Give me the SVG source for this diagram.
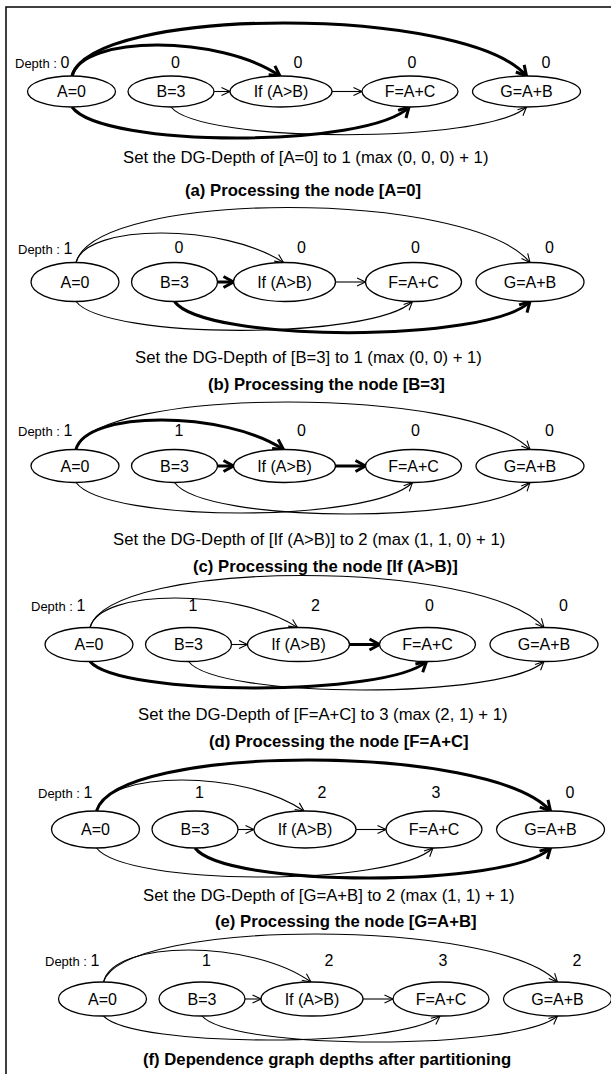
<svg xmlns="http://www.w3.org/2000/svg" width="611" height="1074" viewBox="0 0 611 1074">
<style>
.n ellipse{fill:#fff;stroke:#000;stroke-width:1.3}
.n text{font-family:"Liberation Sans",Arial,sans-serif;font-size:16px;text-anchor:middle;fill:#000}
.e{fill:none;stroke:#000;stroke-width:1.1;marker-end:url(#arr)}
.e.t{stroke-width:3;marker-end:url(#arrT)}
.lbl{font-family:"Liberation Sans",Arial,sans-serif;fill:#000}
.cap{font-size:16.7px}
.b{font-weight:bold}
.dl{font-size:13px}
.num{font-size:16px;text-anchor:middle}
</style>
<defs>
<marker id="arr" viewBox="0 0 10 10" refX="9.5" refY="5" markerWidth="10" markerHeight="10" markerUnits="userSpaceOnUse" orient="auto" overflow="visible"><path d="M1,1 L9.5,5 L1,9" fill="none" stroke="#000" stroke-width="1.1"/></marker>
<marker id="arrT" viewBox="0 0 14 14" refX="12" refY="7" markerWidth="14" markerHeight="14" markerUnits="userSpaceOnUse" orient="auto" overflow="visible"><path d="M2,1.5 L12,7 L2,12.5" fill="none" stroke="#000" stroke-width="3"/></marker>
</defs>
<path id="frame" d="M6,1074 V7 H611" fill="none" stroke="#000" stroke-width="1.5"/>

<g id="connectors">
<!-- a -->
<path class="e t" d="M72,76 C82,34.7 220,34.7 280,76"/>
<path class="e t" d="M72,76 C92,5.3 466,5.3 526.5,76"/>
<path class="e t" d="M72,107 C102,148.3 369,148.3 409,107"/>
<path class="e" d="M171,107 C201,144 486,144 526.5,107"/>
<path class="e" d="M214,91.5 L230,91.5"/>
<path class="e" d="M332,91.5 L362,91.5"/>
<!-- b -->
<path class="e" d="M76,262.5 C86,223.2 224,223.2 283.5,262.5"/>
<path class="e" d="M76,262.5 C96,189.2 470,189.2 530,262.5"/>
<path class="e" d="M76,301.5 C106,340 372,340 412.5,301.5"/>
<path class="e t" d="M174.5,301.5 C204.5,343 490,343 530,301.5"/>
<path class="e t" d="M217.5,282 L233.5,282"/>
<path class="e" d="M335.5,282 L365.5,282"/>
<!-- c -->
<path class="e t" d="M76,449.5 C86,410.2 224,410.2 283.5,449.5"/>
<path class="e" d="M76,449.5 C96,386.2 470,386.2 530,449.5"/>
<path class="e" d="M76,482.5 C106,523.2 372,523.2 412.5,482.5"/>
<path class="e" d="M174.5,482.5 C204.5,524.5 490,524.5 530,482.5"/>
<path class="e t" d="M217.5,466 L233.5,466"/>
<path class="e t" d="M335.5,466 L365.5,466"/>
<!-- d -->
<path class="e" d="M90,627.5 C100,588.2 238,588.2 297.5,627.5"/>
<path class="e" d="M90,627.5 C110,558.2 484,558.2 544,627.5"/>
<path class="e t" d="M90,661.5 C120,696.8 387,696.8 426.5,661.5"/>
<path class="e" d="M188.5,661.5 C218.5,699.5 504,699.5 544,661.5"/>
<path class="e" d="M231.5,644.5 L247.5,644.5"/>
<path class="e t" d="M349.5,644.5 L379.5,644.5"/>
<!-- e -->
<path class="e" d="M96.5,811 C106.5,769.7 244.5,769.7 304,811"/>
<path class="e t" d="M96.5,811 C116.5,743 490.5,743 550.5,811"/>
<path class="e" d="M96.5,848 C126.5,886.7 393,886.7 433,848"/>
<path class="e t" d="M195,848 C225,888 510.5,888 550.5,848"/>
<path class="e" d="M238,829.5 L254,829.5"/>
<path class="e" d="M356,829.5 L386,829.5"/>
<!-- f -->
<path class="e" d="M103.5,982 C113.5,939.3 251.5,939.3 311,982"/>
<path class="e" d="M103.5,982 C123.5,918 497.5,918 557.5,982"/>
<path class="e" d="M103.5,1016 C133.5,1048 400,1048 440,1016"/>
<path class="e" d="M202,1016 C232,1050.7 517.5,1050.7 557.5,1016"/>
<path class="e" d="M245,999 L261,999"/>
<path class="e" d="M363,999 L393,999"/>
</g>

<!-- panel a nodes -->
<g id="a-A" class="n"><ellipse cx="71.5" cy="91.5" rx="44" ry="15.5"/><text x="71.5" y="97">A=0</text></g>
<g id="a-B" class="n"><ellipse cx="171" cy="91.5" rx="43" ry="15.5"/><text x="171" y="97">B=3</text></g>
<g id="a-If" class="n"><ellipse cx="281" cy="91.5" rx="51" ry="15.5"/><text x="281" y="97">If (A&gt;B)</text></g>
<g id="a-F" class="n"><ellipse cx="410" cy="91.5" rx="48" ry="15.5"/><text x="410" y="97">F=A+C</text></g>
<g id="a-G" class="n"><ellipse cx="526.5" cy="91.5" rx="54" ry="15.5"/><text x="526.5" y="97">G=A+B</text></g>
<g id="a-labels" class="lbl">
<text class="dl" x="15" y="68">Depth : <tspan font-size="16">0</tspan></text>
<text class="num" x="175.5" y="68">0</text><text class="num" x="298" y="68">0</text><text class="num" x="412" y="68">0</text><text class="num" x="546" y="68">0</text>
<text class="cap" x="123" y="163">Set the DG-Depth of [A=0] to 1 (max (0, 0, 0) + 1)</text>
<text class="cap b" x="185" y="196">(a) Processing the node [A=0]</text>
</g>

<!-- panel b nodes -->
<g id="b-A" class="n"><ellipse cx="75" cy="282" rx="44" ry="19.5"/><text x="75" y="287.5">A=0</text></g>
<g id="b-B" class="n"><ellipse cx="174.5" cy="282" rx="43" ry="19.5"/><text x="174.5" y="287.5">B=3</text></g>
<g id="b-If" class="n"><ellipse cx="284.5" cy="282" rx="51" ry="19.5"/><text x="284.5" y="287.5">If (A&gt;B)</text></g>
<g id="b-F" class="n"><ellipse cx="413.5" cy="282" rx="48" ry="19.5"/><text x="413.5" y="287.5">F=A+C</text></g>
<g id="b-G" class="n"><ellipse cx="530" cy="282" rx="54" ry="19.5"/><text x="530" y="287.5">G=A+B</text></g>
<g id="b-labels" class="lbl">
<text class="dl" x="18" y="254">Depth : <tspan font-size="16">1</tspan></text>
<text class="num" x="179" y="253">0</text><text class="num" x="301.5" y="253">0</text><text class="num" x="415.5" y="253">0</text><text class="num" x="549.5" y="253">0</text>
<text class="cap" x="135" y="363">Set the DG-Depth of [B=3] to 1 (max (0, 0) + 1)</text>
<text class="cap b" x="208" y="390">(b) Processing the node [B=3]</text>
</g>

<!-- panel c nodes -->
<g id="c-A" class="n"><ellipse cx="75" cy="466" rx="44" ry="16.5"/><text x="75" y="471.5">A=0</text></g>
<g id="c-B" class="n"><ellipse cx="174.5" cy="466" rx="43" ry="16.5"/><text x="174.5" y="471.5">B=3</text></g>
<g id="c-If" class="n"><ellipse cx="284.5" cy="466" rx="51" ry="16.5"/><text x="284.5" y="471.5">If (A&gt;B)</text></g>
<g id="c-F" class="n"><ellipse cx="413.5" cy="466" rx="48" ry="16.5"/><text x="413.5" y="471.5">F=A+C</text></g>
<g id="c-G" class="n"><ellipse cx="530" cy="466" rx="54" ry="16.5"/><text x="530" y="471.5">G=A+B</text></g>
<g id="c-labels" class="lbl">
<text class="dl" x="18" y="436">Depth : <tspan font-size="16">1</tspan></text>
<text class="num" x="179" y="436">1</text><text class="num" x="301.5" y="436">0</text><text class="num" x="415.5" y="436">0</text><text class="num" x="549.5" y="436">0</text>
<text class="cap" x="113" y="545">Set the DG-Depth of [If (A&gt;B)] to 2 (max (1, 1, 0) + 1)</text>
<text class="cap b" x="193" y="572">(c) Processing the node [If (A&gt;B)]</text>
</g>

<!-- panel d nodes -->
<g id="d-A" class="n"><ellipse cx="89" cy="644.5" rx="44" ry="17"/><text x="89" y="650">A=0</text></g>
<g id="d-B" class="n"><ellipse cx="188.5" cy="644.5" rx="43" ry="17"/><text x="188.5" y="650">B=3</text></g>
<g id="d-If" class="n"><ellipse cx="298.5" cy="644.5" rx="51" ry="17"/><text x="298.5" y="650">If (A&gt;B)</text></g>
<g id="d-F" class="n"><ellipse cx="427.5" cy="644.5" rx="48" ry="17"/><text x="427.5" y="650">F=A+C</text></g>
<g id="d-G" class="n"><ellipse cx="544" cy="644.5" rx="54" ry="17"/><text x="544" y="650">G=A+B</text></g>
<g id="d-labels" class="lbl">
<text class="dl" x="31" y="611">Depth : <tspan font-size="16">1</tspan></text>
<text class="num" x="193" y="611">1</text><text class="num" x="315.5" y="611">2</text><text class="num" x="429.5" y="611">0</text><text class="num" x="563.5" y="611">0</text>
<text class="cap" x="138" y="720">Set the DG-Depth of [F=A+C] to 3 (max (2, 1) + 1)</text>
<text class="cap b" x="209" y="747">(d) Processing the node [F=A+C]</text>
</g>

<!-- panel e nodes -->
<g id="e-A" class="n"><ellipse cx="95.5" cy="829.5" rx="44" ry="18.5"/><text x="95.5" y="835">A=0</text></g>
<g id="e-B" class="n"><ellipse cx="195" cy="829.5" rx="43" ry="18.5"/><text x="195" y="835">B=3</text></g>
<g id="e-If" class="n"><ellipse cx="305" cy="829.5" rx="51" ry="18.5"/><text x="305" y="835">If (A&gt;B)</text></g>
<g id="e-F" class="n"><ellipse cx="434" cy="829.5" rx="48" ry="18.5"/><text x="434" y="835">F=A+C</text></g>
<g id="e-G" class="n"><ellipse cx="550.5" cy="829.5" rx="54" ry="18.5"/><text x="550.5" y="835">G=A+B</text></g>
<g id="e-labels" class="lbl">
<text class="dl" x="38" y="798">Depth : <tspan font-size="16">1</tspan></text>
<text class="num" x="199.5" y="798">1</text><text class="num" x="322" y="798">2</text><text class="num" x="436" y="798">3</text><text class="num" x="570" y="798">0</text>
<text class="cap" x="143" y="901">Set the DG-Depth of [G=A+B] to 2 (max (1, 1) + 1)</text>
<text class="cap b" x="215" y="927">(e) Processing the node [G=A+B]</text>
</g>

<!-- panel f nodes -->
<g id="f-A" class="n"><ellipse cx="102.5" cy="999" rx="44" ry="17"/><text x="102.5" y="1004.5">A=0</text></g>
<g id="f-B" class="n"><ellipse cx="202" cy="999" rx="43" ry="17"/><text x="202" y="1004.5">B=3</text></g>
<g id="f-If" class="n"><ellipse cx="312" cy="999" rx="51" ry="17"/><text x="312" y="1004.5">If (A&gt;B)</text></g>
<g id="f-F" class="n"><ellipse cx="441" cy="999" rx="48" ry="17"/><text x="441" y="1004.5">F=A+C</text></g>
<g id="f-G" class="n"><ellipse cx="557.5" cy="999" rx="54" ry="17"/><text x="557.5" y="1004.5">G=A+B</text></g>
<g id="f-labels" class="lbl">
<text class="dl" x="45" y="966">Depth : <tspan font-size="16">1</tspan></text>
<text class="num" x="206.5" y="966">1</text><text class="num" x="329" y="966">2</text><text class="num" x="443" y="966">3</text><text class="num" x="577" y="966">2</text>
<text class="cap b" x="143" y="1065">(f) Dependence graph depths after partitioning</text>
</g>
</svg>
